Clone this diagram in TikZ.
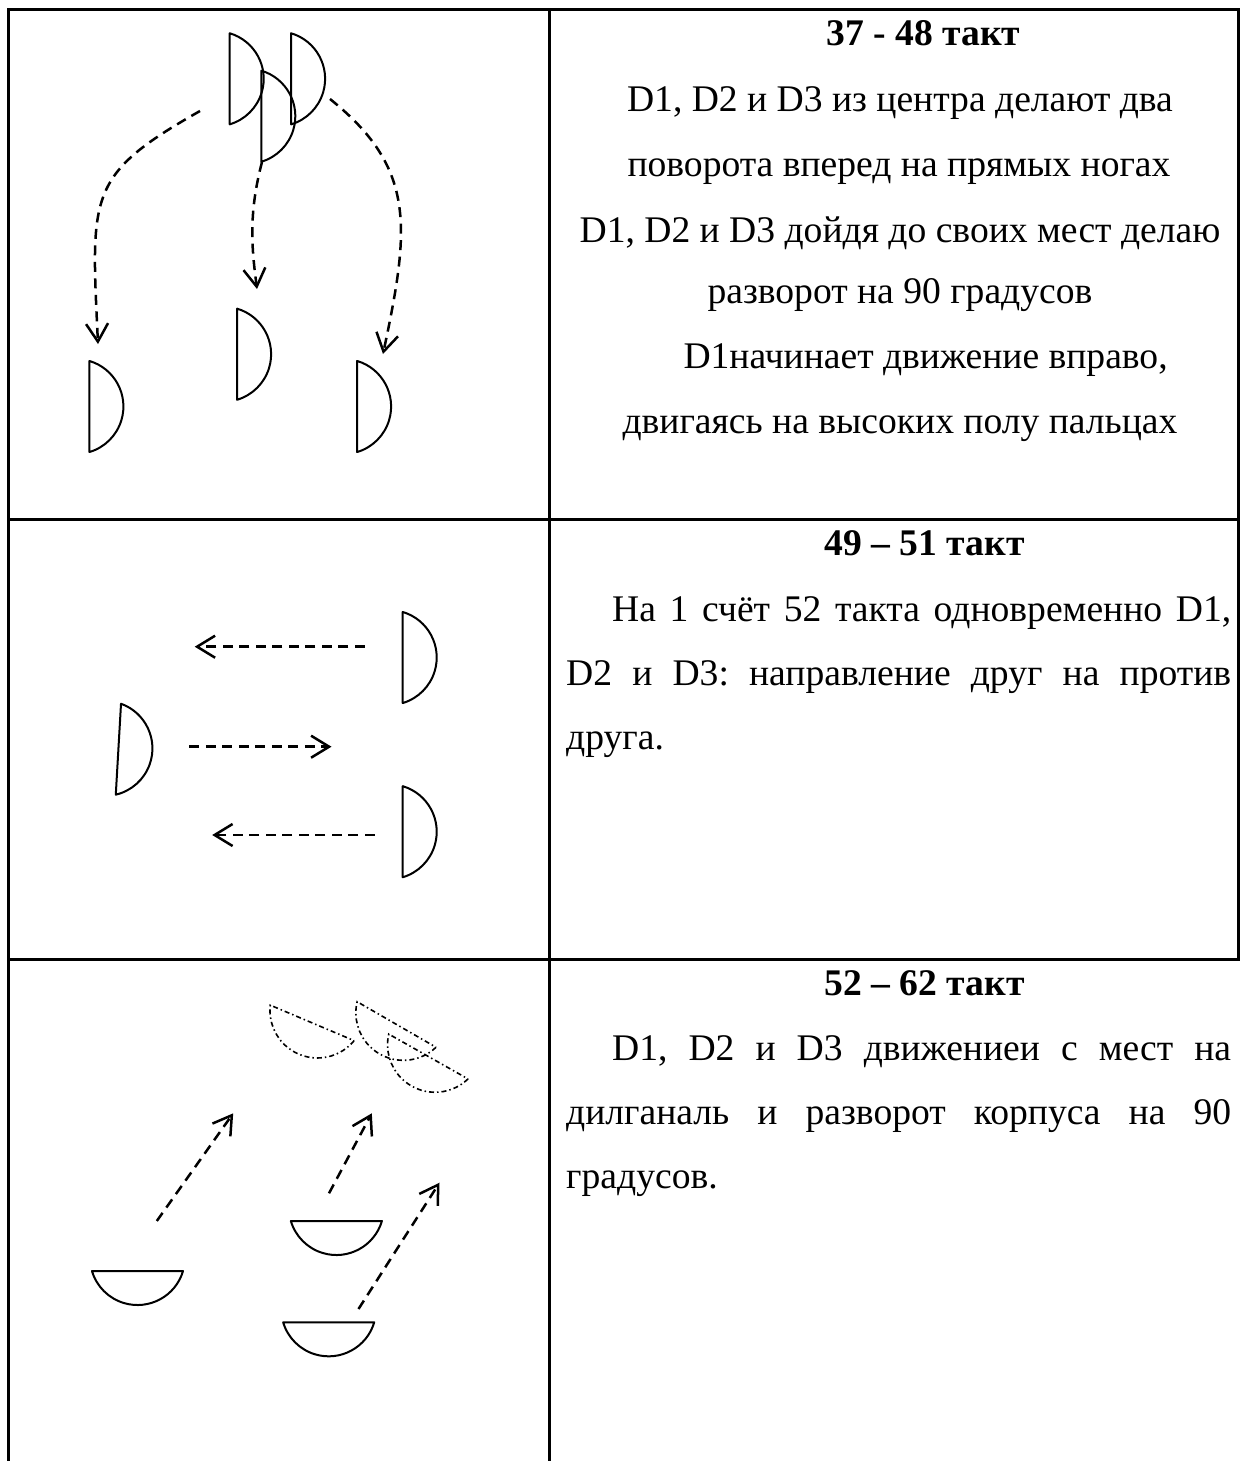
\documentclass[tikz,border=0pt]{standalone}
\usepackage{fontspec}
\setmainfont{Liberation Serif}
\usetikzlibrary{arrows.meta}
\frenchspacing
\begin{document}
\begin{tikzpicture}[x=1pt,y=-1pt,
  frame/.style={line width=3pt,line cap=rect},
  dancer/.pic={\draw (0,-45.54) arc[start angle=-73.5,end angle=73.5,radius=47.5] -- cycle;},
  solidfig/.style={line width=2pt,line join=round},
  ghostfig/.style={line width=1.6pt,dash pattern=on 5pt off 3pt on 1.5pt off 3pt},
  move/.style={line width=2.5pt,dash pattern=on 10pt off 6.5pt,
    -{Straight Barb[length=18pt,width=22pt]}},
  txt/.style={font=\fontsize{37.6}{45}\selectfont,inner sep=0pt,anchor=base},
  title/.style={txt,font=\fontsize{37.6}{45}\selectfont\bfseries},
  txtl/.style={txt,anchor=base west}]
\useasboundingbox (0,0) rectangle (1241,1461);

% table grid
\draw[frame] (8,10) -- (1238,10);
\draw[frame] (8,519) -- (1238,519);
\draw[frame] (8,959) -- (1238,959);
\draw[frame] (8,10) -- (8,1461);
\draw[frame] (549,10) -- (549,1461);
\draw[frame] (1238,10) -- (1238,959);

% ---- row 1: figures
\pic[solidfig] at (229.7,78.8) {dancer};
\pic[solidfig] at (291.1,78.8) {dancer};
\pic[solidfig] at (261.3,116.2) {dancer};
\pic[solidfig] at (89.4,406.5) {dancer};
\pic[solidfig] at (237.1,354.2) {dancer};
\pic[solidfig] at (357.1,406.5) {dancer};

\coordinate (m1s) at (200,111);  \coordinate (m1e) at (98,344);
\coordinate (m2s) at (262,162);  \coordinate (m2e) at (257,289);
\coordinate (m3s) at (330,99);   \coordinate (m3e) at (383,354);
\draw[move] (m1s) .. controls (87,175) and (91,194) .. (m1e);
\draw[move] (m2s) .. controls (248,215) and (252,250) .. (m2e);
\draw[move] (m3s) .. controls (416,168) and (410,227) .. (m3e);

% ---- row 1: text
\node[title] (t1) at (923.5,46) {37 - 48 такт};
\node[txt] (t1a) at (900,112) {D1, D2 и D3 из центра делают два};
\node[txt] (t1b) at (899,176) {поворота вперед на прямых ногах};
\node[txt] (t1c) at (900,242) {D1, D2 и D3 дойдя до своих мест делаю};
\node[txt] (t1d) at (900,303) {разворот на 90 градусов};
\node[txt] (t1e) at (925.6,368) {D1начинает движение вправо,};
\node[txt] (t1f) at (900,433) {двигаясь на высоких полу пальцах};

% ---- row 2: figures
\pic[solidfig] at (402.7,657.5) {dancer};
\pic[solidfig,rotate=-3.3] at (118.4,749.2) {dancer};
\pic[solidfig] at (402.7,831.7) {dancer};

\coordinate (h1s) at (364.8,646.7); \coordinate (h1e) at (194.7,646.7);
\coordinate (h2s) at (189.4,746.7); \coordinate (h2e) at (331.5,746.7);
\coordinate (h3s) at (374.6,835);   \coordinate (h3e) at (212.2,835);
\draw[move] (h1s) -- (h1e);
\draw[move] (h2s) -- (h2e);
\draw[move] (h3s) -- (h3e);

% ---- row 2: text
\node[title] (t2) at (924.5,555) {49 – 51 такт};
\node[txtl] (t2a) at (612,621) {\hbox to 619pt{На 1 счёт 52 такта одновременно D1,}};
\node[txtl] (t2b) at (566,685) {\hbox to 665pt{D2 и D3: направление друг на против}};
\node[txtl] (t2c) at (566,749) {друга.};

% ---- row 3: figures
\pic[solidfig,rotate=-90] at (137.5,1271) {dancer};
\pic[solidfig,rotate=-90] at (336.4,1221) {dancer};
\pic[solidfig,rotate=-90] at (328.7,1322.3) {dancer};
\pic[ghostfig,rotate=-112.95] at (312.2,1022.9) {dancer};
\pic[ghostfig,rotate=-120] at (396.6,1024.5) {dancer};
\pic[ghostfig,rotate=-119.5] at (428.4,1056.5) {dancer};

\coordinate (d1s) at (156.8,1221);  \coordinate (d1e) at (233.2,1113.3);
\coordinate (d2s) at (329,1193.3);  \coordinate (d2e) at (371.8,1113.3);
\coordinate (d3s) at (358.5,1309);  \coordinate (d3e) at (439.5,1182.7);
\draw[move] (d1s) -- (d1e);
\draw[move] (d2s) -- (d2e);
\draw[move] (d3s) -- (d3e);

% ---- row 3: text
\node[title] (t3) at (924.5,995) {52 – 62 такт};
\node[txtl] (t3a) at (612,1060) {\hbox to 619pt{D1, D2 и D3 движениеи с мест на}};
\node[txtl] (t3b) at (566,1124) {\hbox to 665pt{дилганаль и разворот корпуса на 90}};
\node[txtl] (t3c) at (566,1188) {градусов.};
\end{tikzpicture}
\end{document}
